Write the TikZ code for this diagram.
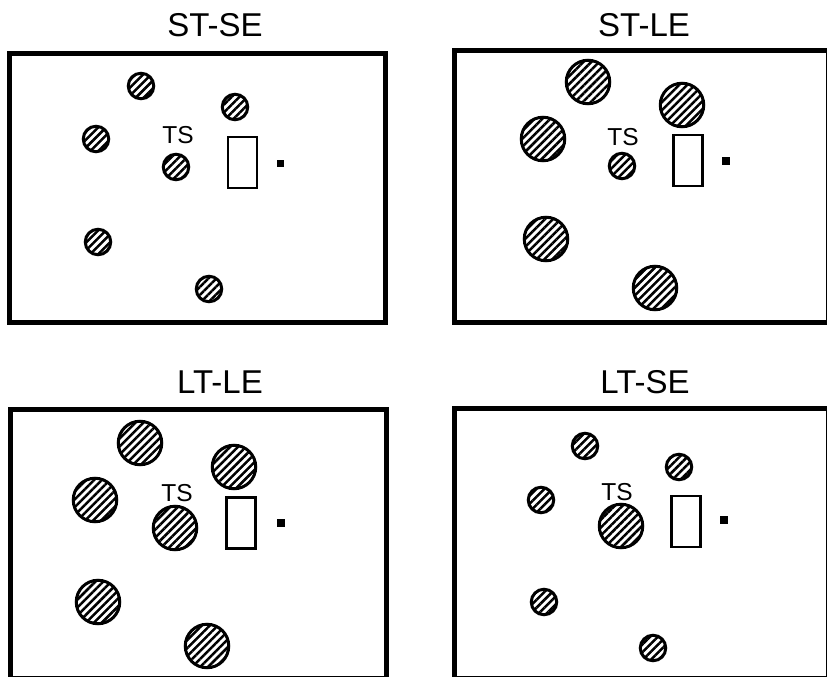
\documentclass[tikz,border=0pt]{standalone}
\usepackage{fontspec}
\setmainfont{Liberation Sans}
\usetikzlibrary{patterns.meta}
\begin{document}
\begin{tikzpicture}[x=1pt,y=-1pt,
  frame/.style={line width=5pt},
  title/.style={font=\fontsize{33}{33}\selectfont, inner sep=0pt},
  tslabel/.style={font=\fontsize{24.5}{24.5}\selectfont, inner sep=0pt},
  hatched/.style={circle, draw, line width=3pt, inner sep=0pt,
    pattern={Lines[angle=45,distance=5.6pt,line width=2.5pt]}},
  smallball/.style={hatched, minimum size=25.5pt},
  bigball/.style={hatched, minimum size=43.5pt},
  screen/.style={draw, line width=2.2pt, inner sep=0pt, minimum width=29pt, minimum height=51pt},
  marker/.style={fill, inner sep=0pt, minimum size=7.5pt}]
\fill[white] (0,0) rectangle (827,677);
\useasboundingbox (0,0) rectangle (827,677);

% ---- ST-SE ----
\node[title] (t1) at (215,25) {ST-SE};
\draw[frame] (9.5,53.5) rectangle (385.5,322.5);
\node[smallball] (a1) at (141,86) {};
\node[smallball] (a2) at (235,107) {};
\node[smallball] (a3) at (96,139) {};
\node[smallball] (a4) at (176,167) {};
\node[smallball] (a5) at (98,242) {};
\node[smallball] (a6) at (209,289) {};
\node[tslabel] (ts1) at (178,135) {TS};
\node[screen] (s1) at (242.5,162.5) {};
\node[marker] (m1) at (280.5,163.5) {};

% ---- ST-LE ----
\node[title] (t2) at (644,25) {ST-LE};
\draw[frame] (454.5,51) rectangle (828.5,322.5);
\node[bigball] (b1) at (588,82) {};
\node[bigball] (b2) at (682,105) {};
\node[bigball] (b3) at (543,139) {};
\node[smallball] (b4) at (622,166) {};
\node[bigball] (b5) at (546,239) {};
\node[bigball] (b6) at (655,288) {};
\node[tslabel] (ts2) at (623,137) {TS};
\node[screen] (s2) at (688,160.5) {};
\node[marker] (m2) at (726,161) {};

% ---- LT-LE ----
\node[title] (t3) at (220,382) {LT-LE};
\draw[frame] (10.5,409.5) rectangle (386.5,678.5);
\node[bigball] (c1) at (140,443) {};
\node[bigball] (c2) at (234,467) {};
\node[bigball] (c3) at (95,500) {};
\node[bigball] (c4) at (175,528) {};
\node[bigball] (c5) at (98,602) {};
\node[bigball] (c6) at (207,646) {};
\node[tslabel] (ts3) at (177,493) {TS};
\node[screen] (s3) at (241,523) {};
\node[marker] (m3) at (281,523) {};

% ---- LT-SE ----
\node[title] (t4) at (645,382) {LT-SE};
\draw[frame] (454.5,408.5) rectangle (828.5,678.5);
\node[smallball] (d1) at (585,446) {};
\node[smallball] (d2) at (679,467) {};
\node[smallball] (d3) at (541,500) {};
\node[bigball] (d4) at (621,526) {};
\node[smallball] (d5) at (544,602) {};
\node[smallball] (d6) at (653,648) {};
\node[tslabel] (ts4) at (617,492) {TS};
\node[screen] (s4) at (686,521.5) {};
\node[marker] (m4) at (724,520) {};
\end{tikzpicture}
\end{document}
